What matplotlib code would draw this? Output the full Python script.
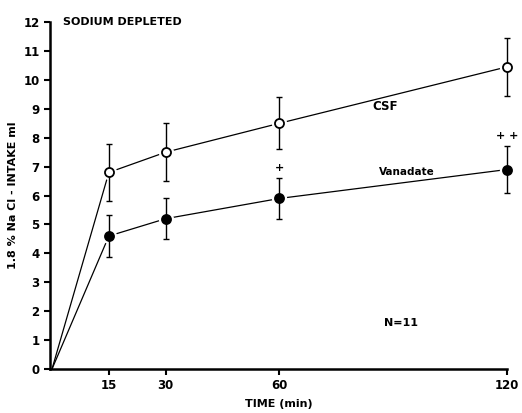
import matplotlib
matplotlib.use("Agg")
import matplotlib.pyplot as plt

# data
time = [0, 15, 30, 60, 120]
csf = [0, 6.8, 7.5, 8.5, 10.45]
csf_err = [0, 1.0, 1.0, 0.9, 1.0]
van = [0, 4.6, 5.2, 5.9, 6.9]
van_err = [0, 0.72, 0.7, 0.7, 0.8]
xticks = [15, 30, 60, 120]
yticks = list(range(0, 13))

plt.rcParams['font.family'] = 'DejaVu Sans'
plt.rcParams['font.weight'] = 'bold'

fig = plt.figure(figsize=(5.22, 4.13), dpi=100)
ax = fig.add_axes([0.096, 0.1065, 0.875, 0.84])

for y, e, fc in [(csf, csf_err, 'white'), (van, van_err, 'black')]:
    ax.plot(time, y, color='black', lw=0.9, zorder=1)
    # white halo so the line stops short of the marker
    ax.plot(time[1:], y[1:], 'o', ms=10, mfc='white', mec='white', zorder=2, clip_on=False)
    ax.errorbar(time[1:], y[1:], yerr=e[1:], fmt='none', ecolor='black',
                elinewidth=1.0, capsize=2.5, capthick=1.0, zorder=3, clip_on=False)
    ax.plot(time[1:], y[1:], 'o', ms=6.5, mfc=fc, mec='black', mew=1.3, zorder=4, clip_on=False)

ax.set_xlim(-0.5, 120)
ax.set_ylim(0, 12)
ax.set_xticks(xticks)
ax.set_yticks(yticks)
ax.tick_params(axis='both', direction='out', length=4, width=1.5, labelsize=8.5)
for s in ['top', 'right']:
    ax.spines[s].set_visible(False)
for s in ['left', 'bottom']:
    ax.spines[s].set_linewidth(1.8)

ax.set_xlabel('TIME (min)', fontsize=8, fontweight='bold', labelpad=5)
ax.set_ylabel('1.8 % Na Cl - INTAKE ml', fontsize=8, fontweight='bold', labelpad=4)

ax.text(3, 12, 'SODIUM DEPLETED', fontsize=8, fontweight='bold', va='center')
ax.text(88, 8.95, 'CSF', fontsize=8.5, fontweight='bold', ha='center')
ax.text(93.5, 6.8, 'Vanadate', fontsize=7.5, fontweight='bold', ha='center', va='center')
ax.text(92, 1.6, 'N=11', fontsize=8, fontweight='bold', ha='center', va='center')
ax.text(60, 6.95, '+', fontsize=8, fontweight='bold', ha='center', va='center')
ax.text(120, 8.05, '+ +', fontsize=8, fontweight='bold', ha='center', va='center')

fig.savefig('out.png', dpi=100)
